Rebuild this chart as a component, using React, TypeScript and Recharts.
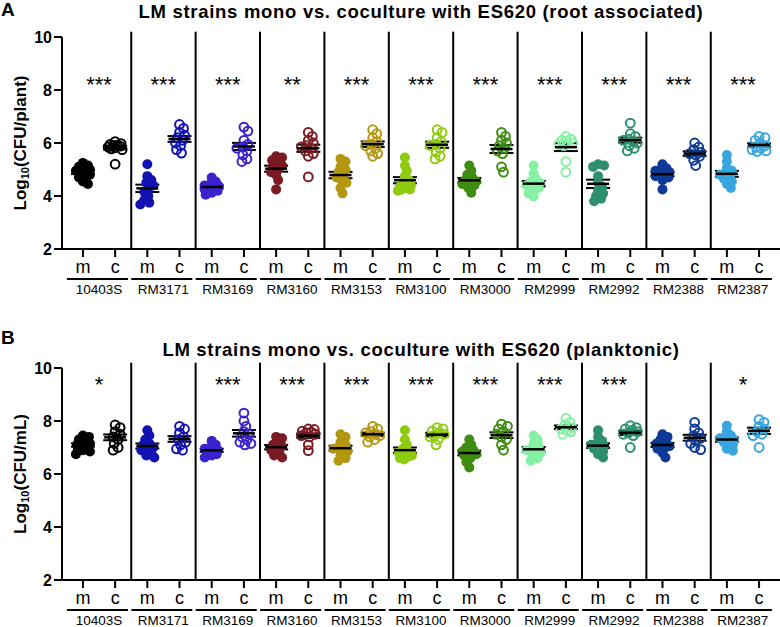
import { ScatterChart, Scatter, XAxis, YAxis, ReferenceLine, ErrorBar } from 'recharts'

const strains = ['10403S', 'RM3171', 'RM3169', 'RM3160', 'RM3153', 'RM3100', 'RM3000', 'RM2999', 'RM2992', 'RM2388', 'RM2387']
const strainColors = ['#000000', '#1212b2', '#3a22cc', '#7a1a22', '#b3980f', '#8fcc10', '#3f8c12', '#86f0a4', '#2e8f6e', '#0e3a96', '#38a6de']

// Log10(CFU/plant), root associated
const rootMono = [
  [5.25, 5.15, 5.05, 5.0, 4.95, 4.9, 4.85, 4.8, 4.7, 4.55, 4.45, 5.1],
  [5.2, 4.75, 4.6, 4.5, 4.4, 4.3, 4.15, 4.0, 3.85, 3.75, 3.68],
  [4.7, 4.55, 4.45, 4.4, 4.38, 4.35, 4.3, 4.25, 4.2, 4.12, 4.05],
  [5.5, 5.45, 5.35, 5.25, 5.15, 5.1, 5.0, 4.9, 4.8, 4.6, 4.25],
  [5.4, 5.3, 5.1, 5.0, 4.9, 4.8, 4.7, 4.6, 4.5, 4.3, 4.1],
  [5.45, 5.15, 4.95, 4.75, 4.6, 4.5, 4.4, 4.3, 4.25, 4.2, 4.35, 4.25],
  [5.15, 4.95, 4.8, 4.7, 4.6, 4.55, 4.5, 4.45, 4.4, 4.3, 4.12],
  [5.15, 4.85, 4.65, 4.55, 4.5, 4.45, 4.4, 4.3, 4.2, 4.1, 3.98],
  [5.2, 5.15, 5.1, 4.75, 4.5, 4.35, 4.2, 4.1, 4.0, 3.9, 3.8],
  [5.2, 5.05, 5.0, 4.95, 4.9, 4.85, 4.8, 4.75, 4.7, 4.6, 4.25],
  [5.55, 5.3, 5.05, 4.95, 4.85, 4.8, 4.75, 4.65, 4.55, 4.45, 4.3],
]
const rootCo = [
  [6.05, 5.98, 5.95, 5.92, 5.9, 5.88, 5.85, 5.82, 5.78, 5.75, 5.2],
  [6.7, 6.55, 6.4, 6.3, 6.2, 6.1, 6.0, 5.9, 5.75, 5.62],
  [6.6, 6.45, 6.1, 5.95, 5.85, 5.8, 5.7, 5.55, 5.4, 5.3],
  [6.4, 6.25, 6.1, 6.0, 5.9, 5.85, 5.8, 5.7, 5.6, 5.5, 4.72],
  [6.5, 6.35, 6.2, 6.05, 5.95, 5.9, 5.8, 5.7, 5.6, 5.5],
  [6.5, 6.4, 6.2, 6.05, 5.95, 5.9, 5.8, 5.65, 5.5, 5.4],
  [6.4, 6.25, 6.1, 6.0, 5.9, 5.8, 5.7, 5.6, 5.1, 4.9],
  [6.25, 6.15, 6.1, 6.05, 6.0, 5.95, 5.9, 5.3, 4.9],
  [6.75, 6.35, 6.25, 6.15, 6.1, 6.05, 6.0, 5.9, 5.8, 5.7],
  [6.0, 5.85, 5.75, 5.65, 5.6, 5.55, 5.5, 5.35, 5.15],
  [6.25, 6.2, 6.1, 6.0, 5.9, 5.85, 5.8, 5.75, 5.7, 5.68],
]
const rootStars = ['***', '***', '***', '**', '***', '***', '***', '***', '***', '***', '***']

// Log10(CFU/mL), planktonic
const plankMono = [
  [7.45, 7.4, 7.3, 7.2, 7.15, 7.1, 7.05, 7.0, 6.95, 6.85, 6.9, 6.75],
  [7.65, 7.45, 7.3, 7.15, 7.1, 7.0, 6.95, 6.9, 6.8, 6.7, 6.62],
  [7.25, 7.1, 7.0, 6.95, 6.9, 6.85, 6.8, 6.75, 6.7, 6.62],
  [7.4, 7.35, 7.2, 7.1, 7.05, 7.0, 6.9, 6.8, 6.7, 6.62],
  [7.5, 7.4, 7.2, 7.1, 7.0, 6.95, 6.9, 6.85, 6.7, 6.6, 6.5],
  [7.65, 7.3, 7.1, 6.95, 6.85, 6.8, 6.75, 6.7, 6.65, 6.6, 6.55],
  [7.3, 7.1, 7.0, 6.9, 6.85, 6.8, 6.75, 6.7, 6.6, 6.45, 6.25],
  [7.45, 7.3, 7.15, 7.05, 6.95, 6.9, 6.85, 6.8, 6.7, 6.6, 6.5],
  [7.65, 7.4, 7.25, 7.15, 7.1, 7.05, 7.0, 6.95, 6.85, 6.75, 6.62],
  [7.5, 7.4, 7.3, 7.2, 7.15, 7.1, 7.05, 7.0, 6.95, 6.8, 6.62],
  [7.82, 7.6, 7.45, 7.4, 7.35, 7.3, 7.25, 7.2, 7.1, 6.95, 6.88],
]
const plankCo = [
  [7.85, 7.75, 7.6, 7.5, 7.4, 7.3, 7.15, 7.0, 6.9],
  [7.8, 7.7, 7.55, 7.4, 7.3, 7.2, 7.1, 6.95, 6.9],
  [8.3, 8.0, 7.8, 7.6, 7.5, 7.4, 7.3, 7.2, 7.15, 7.1],
  [7.7, 7.68, 7.62, 7.58, 7.55, 7.5, 7.45, 7.4, 7.1, 6.88],
  [7.8, 7.7, 7.6, 7.55, 7.5, 7.45, 7.4, 7.3, 7.2],
  [7.75, 7.7, 7.62, 7.55, 7.5, 7.45, 7.4, 7.3, 7.1],
  [7.88, 7.8, 7.7, 7.6, 7.5, 7.4, 7.3, 7.1, 6.9],
  [8.1, 7.95, 7.85, 7.75, 7.7, 7.65, 7.6, 7.5],
  [7.82, 7.75, 7.7, 7.65, 7.6, 7.55, 7.5, 7.45, 7.0],
  [7.95, 7.7, 7.55, 7.45, 7.35, 7.25, 7.15, 7.0, 6.92],
  [8.05, 7.95, 7.8, 7.7, 7.6, 7.5, 7.45, 7.0],
]
const plankStars = ['*', '', '***', '***', '***', '***', '***', '***', '***', '', '*']

const yTicks = [2, 4, 6, 8, 10]
const xTicks = Array.from({ length: 22 }, (_, i) => i)

const FONT = '"Liberation Sans", Arial, Helvetica, sans-serif'
const W = 780
const H = 296
const TOP = 37
const YW = 62
const X_DOMAIN: [number, number] = [-0.65, 21.65]
const PX_X = (W - YW) / (X_DOMAIN[1] - X_DOMAIN[0])
const PX_Y = (H - TOP - 47) / 8
const MIN_D = 5.5
const MAX_OFF = 7

// simple beeswarm: spread points sideways (in px), kept narrow like the original clumps
function swarm(vals: number[]): number[] {
  const order = vals.map((_, i) => i).sort((a, b) => vals[b] - vals[a])
  const placed: { o: number; v: number }[] = []
  const out = new Array(vals.length).fill(0)
  for (const i of order) {
    let best = 0
    let bestD = -1
    for (let k = 0; k <= MAX_OFF * 2; k++) {
      const o = k === 0 ? 0 : k % 2 ? Math.ceil(k / 2) : -Math.ceil(k / 2)
      const d = placed.length
        ? Math.min(...placed.map((p) => Math.hypot(o - p.o, (vals[i] - p.v) * PX_Y)))
        : Infinity
      if (d >= MIN_D) {
        best = o
        bestD = d
        break
      }
      if (d > bestD) {
        bestD = d
        best = o
      }
    }
    placed.push({ o: best, v: vals[i] })
    out[i] = best / PX_X
  }
  return out
}

function meanSem(vals: number[]) {
  const n = vals.length
  const m = vals.reduce((a, b) => a + b, 0) / n
  const sd = Math.sqrt(vals.reduce((a, b) => a + (b - m) ** 2, 0) / (n - 1))
  return { mean: m, sem: sd / Math.sqrt(n) }
}

const XTick = (props: any) => {
  const { x, y, payload } = props
  const i = payload.value as number
  const isM = i % 2 === 0
  return (
    <g fontFamily={FONT}>
      <text x={x} y={y + 14} textAnchor="middle" fontSize={18} fill="#000">
        {isM ? 'm' : 'c'}
      </text>
      {isM && (
        <>
          <line x1={x - 16} x2={x + 45} y1={y + 20} y2={y + 20} stroke="#000" strokeWidth={2} />
          <text x={x + 16} y={y + 35} textAnchor="middle" fontSize={13.5} fill="#000">
            {strains[i / 2]}
          </text>
        </>
      )}
    </g>
  )
}

interface PanelProps {
  mono: number[][]
  co: number[][]
  stars: string[]
  starY: number
}

function Panel({ mono, co, stars, starY }: PanelProps) {
  const means: { x: number; y: number; sem: number }[] = []
  strains.forEach((_, g) => {
    const a = meanSem(mono[g])
    const b = meanSem(co[g])
    means.push({ x: 2 * g, y: a.mean, sem: a.sem })
    means.push({ x: 2 * g + 1, y: b.mean, sem: b.sem })
  })
  const starData = stars.map((s, g) => ({ x: 2 * g + 0.5, y: starY, label: s })).filter((d) => d.label)

  return (
    <ScatterChart width={W} height={H} margin={{ top: TOP, right: 0, bottom: 0, left: 0 }}>
      <XAxis
        type="number"
        dataKey="x"
        domain={X_DOMAIN}
        ticks={xTicks}
        interval={0}
        height={47}
        tickSize={8}
        tick={<XTick />}
        axisLine={{ stroke: '#000', strokeWidth: 2 }}
        tickLine={{ stroke: '#000', strokeWidth: 2 }}
      />
      <YAxis
        type="number"
        dataKey="y"
        domain={[2, 10]}
        ticks={yTicks}
        width={YW}
        tickSize={8}
        tick={{ fill: '#000', fontSize: 16, fontWeight: 'bold', fontFamily: FONT }}
        axisLine={{ stroke: '#000', strokeWidth: 2 }}
        tickLine={{ stroke: '#000', strokeWidth: 2 }}
      />
      {strains.slice(0, -1).map((_, g) => (
        <ReferenceLine
          key={g}
          segment={[
            { x: 2 * g + 1.5, y: 2 },
            { x: 2 * g + 1.5, y: 10.2 },
          ]}
          ifOverflow="visible"
          stroke="#000"
          strokeWidth={2}
        />
      ))}
      {strains.map((s, g) => {
        const off = swarm(mono[g])
        const data = mono[g].map((v, i) => ({ x: 2 * g + off[i], y: v }))
        return (
          <Scatter
            key={'m' + s}
            data={data}
            isAnimationActive={false}
            shape={(p: any) => <circle cx={p.cx} cy={p.cy} r={5} fill={strainColors[g]} />}
          />
        )
      })}
      {strains.map((s, g) => {
        const off = swarm(co[g])
        const data = co[g].map((v, i) => ({ x: 2 * g + 1 + off[i], y: v }))
        return (
          <Scatter
            key={'c' + s}
            data={data}
            isAnimationActive={false}
            shape={(p: any) => (
              <circle cx={p.cx} cy={p.cy} r={4.4} fill="none" stroke={strainColors[g]} strokeWidth={2} />
            )}
          />
        )
      })}
      <Scatter
        data={means}
        isAnimationActive={false}
        shape={(p: any) => (
          <line x1={p.cx - 11} x2={p.cx + 11} y1={p.cy} y2={p.cy} stroke="#000" strokeWidth={2.5} />
        )}
      >
        <ErrorBar dataKey="sem" direction="y" width={12} stroke="#000" strokeWidth={2} />
      </Scatter>
      <Scatter
        data={starData}
        isAnimationActive={false}
        shape={(p: any) => (
          <text x={p.cx} y={p.cy + 12} textAnchor="middle" fontSize={22} fontFamily={FONT} fill="#000">
            {p.payload.label}
          </text>
        )}
      />
    </ScatterChart>
  )
}

export default function App() {
  return (
    <div style={{ position: 'absolute', left: 0, top: 0, width: 780, height: 627, background: '#fff' }}>
      <svg width={780} height={627} style={{ position: 'absolute', left: 0, top: 0 }} fontFamily={FONT}>
        <text x={1} y={16} fontSize={19} fontWeight="bold">A</text>
        <text x={421} y={18} fontSize={18.5} letterSpacing={0.7} fontWeight="bold" textAnchor="middle">
          LM strains mono vs. coculture with ES620 (root associated)
        </text>
        <text transform="translate(26,143) rotate(-90)" fontSize={17} fontWeight="bold" textAnchor="middle">
          <tspan>Log</tspan>
          <tspan fontSize={11} dy={3}>10</tspan>
          <tspan dy={-3}>(CFU/plant)</tspan>
        </text>
        <text x={1} y={344} fontSize={19} fontWeight="bold">B</text>
        <text x={421} y={356} fontSize={18.5} letterSpacing={0.7} fontWeight="bold" textAnchor="middle">
          LM strains mono vs. coculture with ES620 (planktonic)
        </text>
        <text transform="translate(26,474) rotate(-90)" fontSize={17} fontWeight="bold" textAnchor="middle">
          <tspan>Log</tspan>
          <tspan fontSize={11} dy={3}>10</tspan>
          <tspan dy={-3}>(CFU/mL)</tspan>
        </text>
      </svg>
      <div style={{ position: 'absolute', left: 0, top: 0 }}>
        <Panel mono={rootMono} co={rootCo} stars={rootStars} starY={8.38} />
      </div>
      <div style={{ position: 'absolute', left: 0, top: 331 }}>
        <Panel mono={plankMono} co={plankCo} stars={plankStars} starY={9.55} />
      </div>
    </div>
  )
}
